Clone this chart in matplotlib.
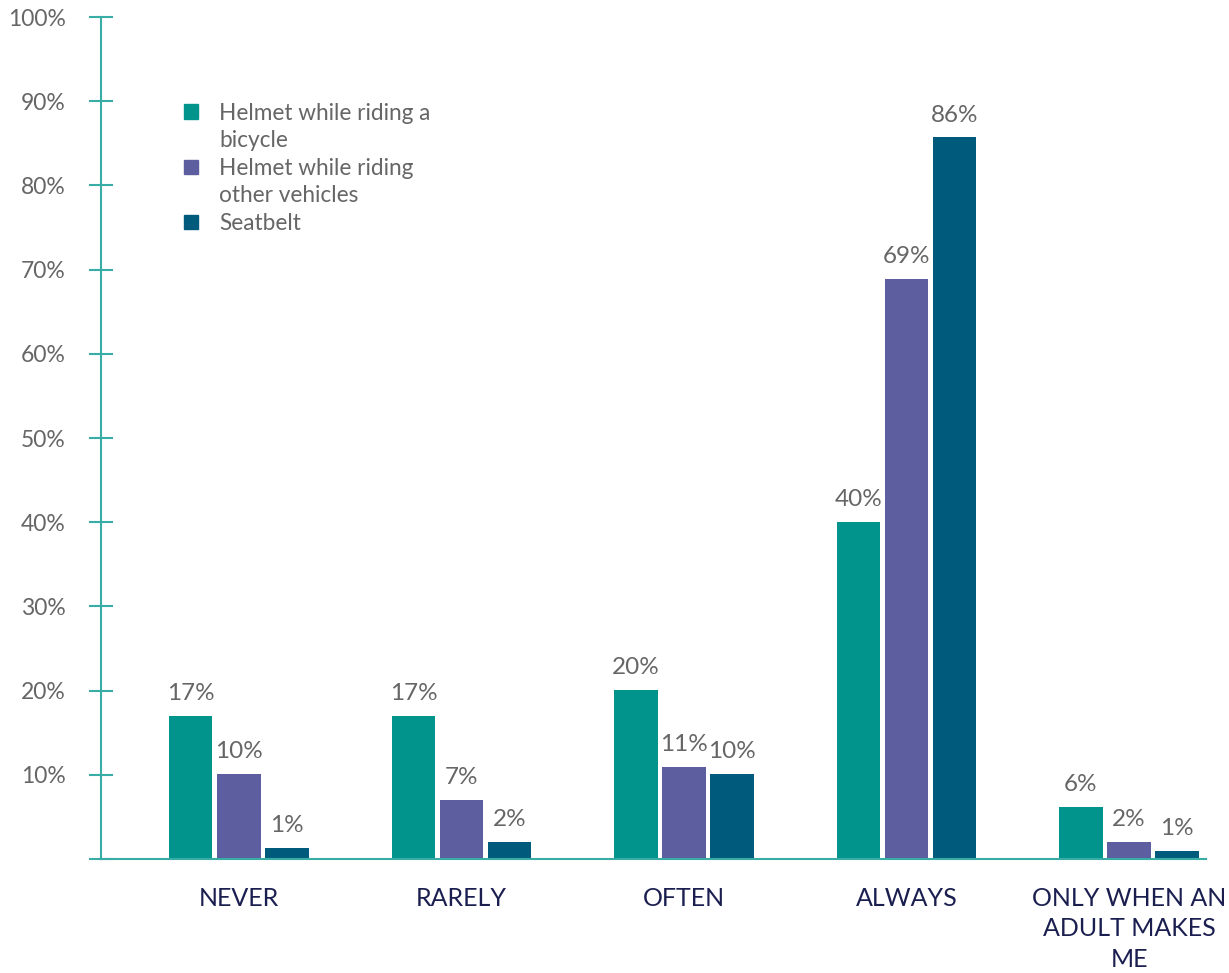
import matplotlib.pyplot as plt
import numpy as np
from matplotlib.patches import Patch

categories = ['NEVER', 'RARELY', 'OFTEN', 'ALWAYS', 'ONLY WHEN AN\nADULT MAKES\nME']
series_names = ['Helmet while riding a bicycle', 'Helmet while riding other vehicles', 'Seatbelt']
bicycle = [17.0, 17.0, 20.1, 40.0, 6.2]
other_vehicles = [10.1, 7.0, 10.9, 68.9, 2.0]
seatbelt = [1.3, 2.0, 10.1, 85.7, 0.95]
bicycle_labels = ['17%', '17%', '20%', '40%', '6%']
other_labels = ['10%', '7%', '11%', '69%', '2%']
seatbelt_labels = ['1%', '2%', '10%', '86%', '1%']
yticks = [0, 10, 20, 30, 40, 50, 60, 70, 80, 90, 100]
ytick_labels = [''] + [f'{t}%' for t in yticks[1:]]

colors = ['#00948d', '#5d5ea0', '#005a7b']
axis_color = '#3aaca6'
label_gray = '#666666'
navy = '#1b1f50'

plt.rcParams['font.family'] = ['Lato', 'DejaVu Sans']

fig = plt.figure(figsize=(12.29, 9.73), dpi=100)
ax = fig.add_axes([101 / 1229, 114 / 973, (1206 - 101) / 1229, (956 - 114) / 973])

x = np.arange(len(categories))
step = 0.216
width = 0.194
all_vals = [bicycle, other_vehicles, seatbelt]
all_labels = [bicycle_labels, other_labels, seatbelt_labels]
for i, (vals, labs) in enumerate(zip(all_vals, all_labels)):
    pos = x + (i - 1) * step
    ax.bar(pos, vals, width=width, color=colors[i], zorder=2)
    for px, v, lab in zip(pos, vals, labs):
        ax.annotate(lab, (px, v), xytext=(0, 8.5), textcoords='offset points',
                    ha='center', va='bottom', fontsize=17.5, color=label_gray)

ax.set_xlim(-0.620, 4.346)
ax.set_ylim(0, 100)
ax.set_yticks(yticks)
ax.set_yticklabels(ytick_labels)
ax.set_xticks(x)
ax.set_xticklabels(categories, fontsize=18, color=navy, linespacing=1.39, va='top')
ax.tick_params(axis='x', length=0, pad=20)
ax.tick_params(axis='y', direction='inout', length=17, width=1.5, color=axis_color,
               labelsize=16.5, labelcolor=label_gray, pad=17)

for s in ['top', 'right']:
    ax.spines[s].set_visible(False)
for s in ['left', 'bottom']:
    ax.spines[s].set_color(axis_color)
    ax.spines[s].set_linewidth(1.5)

handles = [Patch(color=colors[0]), Patch(alpha=0), Patch(color=colors[1]), Patch(alpha=0), Patch(color=colors[2])]
leg_labels = ['Helmet while riding a', 'bicycle', 'Helmet while riding', 'other vehicles', 'Seatbelt']
ax.legend(handles, leg_labels, loc='upper left', bbox_to_anchor=(0.067, 0.909), frameon=False,
          fontsize=16.3, labelcolor=label_gray, handlelength=0.62, handleheight=0.62,
          handletextpad=0.93, labelspacing=0.29, borderaxespad=0)

fig.savefig('out.png', dpi=100)
